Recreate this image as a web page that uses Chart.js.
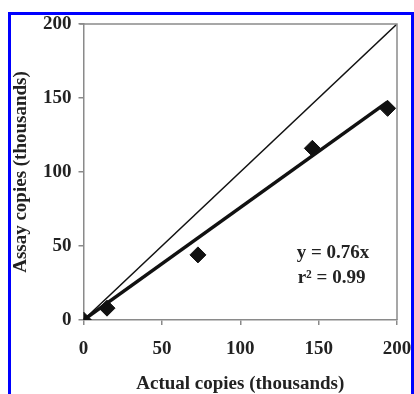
<!DOCTYPE html>
<html>
<head>
<meta charset="utf-8">
<script src="https://cdn.jsdelivr.net/npm/chart.js@4.4.0/dist/chart.umd.min.js"></script>
<style>
  html, body { margin: 0; padding: 0; background: #fff; }
  #wrap { position: relative; width: 414px; height: 394px; overflow: hidden; }
  #chart { position: absolute; left: 0; top: 0; }
  #frame {
    position: absolute; left: 8px; top: 12px; width: 400px; height: 420px;
    border: 3px solid #0000ff; pointer-events: none;
  }
</style>
</head>
<body>
<div id="wrap">
  <canvas id="chart" width="414" height="394"></canvas>
  <div id="frame"></div>
</div>
<script>
// measured points (thousands of copies)
const actualCopies = [0, 15, 73, 146, 194];
const assayCopies = [0, 8, 44, 116, 143];

// regression line y = 0.76x and the 1:1 line
const fitX = [0, 194];
const fitY = [0, 147.4];
const identityX = [0, 200];
const identityY = [0, 200];

const tickValues = [0, 50, 100, 150, 200];
const equationText = ["y = 0.76x", "r\u00B2 = 0.99"];

const serif = "'Liberation Serif', 'Times New Roman', serif";
const axisGray = "#8a8a8a";

function toPoints(xs, ys) {
  return xs.map((x, i) => ({ x: x, y: ys[i] }));
}

// top and right frame of the plot plus the equation text
const framePlugin = {
  id: "framePlugin",
  afterDraw(chart) {
    const ctx = chart.ctx;
    const a = chart.chartArea;
    ctx.save();
    ctx.strokeStyle = axisGray;
    ctx.lineWidth = 1.5;
    ctx.beginPath();
    ctx.moveTo(a.left - 4, a.top);
    ctx.lineTo(a.right, a.top);
    ctx.lineTo(a.right, a.bottom);
    ctx.stroke();

    const xs = chart.scales.x;
    const ys = chart.scales.y;
    ctx.fillStyle = "#222";
    ctx.font = "bold 19px " + serif;
    ctx.textBaseline = "middle";
    ctx.textAlign = "left";
    const tx = xs.getPixelForValue(136);
    ctx.fillText(equationText[0], tx, ys.getPixelForValue(45));
    ctx.fillText(equationText[1], tx + 1, ys.getPixelForValue(28));
    ctx.restore();
  },
};

const ctx = document.getElementById("chart").getContext("2d");

new Chart(ctx, {
  type: "scatter",
  data: {
    datasets: [
      {
        data: toPoints(identityX, identityY),
        showLine: true,
        borderColor: "#111",
        borderWidth: 1.5,
        pointRadius: 0,
      },
      {
        data: toPoints(fitX, fitY),
        showLine: true,
        borderColor: "#111",
        borderWidth: 3.5,
        pointRadius: 0,
      },
      {
        data: toPoints(actualCopies, assayCopies),
        pointStyle: "rectRot",
        pointRadius: 8,
        backgroundColor: "#111",
        borderColor: "#111",
        borderWidth: 1,
      },
    ],
  },
  options: {
    responsive: false,
    animation: false,
    devicePixelRatio: 1,
    layout: { padding: { top: 24, right: 17, left: 0, bottom: 0 } },
    plugins: {
      legend: { display: false },
      tooltip: { enabled: false },
    },
    scales: {
      x: {
        type: "linear",
        min: 0,
        max: 200,
        afterBuildTicks: (scale) => {
          scale.ticks = tickValues.map((v) => ({ value: v }));
        },
        afterFit: (scale) => {
          scale.height = 74;
          scale.paddingLeft = 0;
          scale.paddingRight = 0;
        },
        grid: {
          drawOnChartArea: false,
          drawTicks: true,
          tickLength: 5,
          color: axisGray,
          lineWidth: 1.5,
        },
        border: { display: true, color: axisGray, width: 1.5 },
        ticks: {
          color: "#222",
          padding: 13,
          maxRotation: 0,
          font: { family: serif, size: 19, weight: "bold" },
        },
        title: {
          display: true,
          text: "Actual copies (thousands)",
          color: "#222",
          padding: { top: 6, bottom: 0 },
          font: { family: serif, size: 19, weight: "bold", lineHeight: 1 },
        },
      },
      y: {
        type: "linear",
        min: 0,
        max: 200,
        afterBuildTicks: (scale) => {
          scale.ticks = tickValues.map((v) => ({ value: v }));
        },
        afterFit: (scale) => {
          scale.width = 83.5;
          scale.paddingTop = 0;
          scale.paddingBottom = 0;
        },
        grid: {
          drawOnChartArea: false,
          drawTicks: true,
          tickLength: 5,
          color: axisGray,
          lineWidth: 1.5,
        },
        border: { display: true, color: axisGray, width: 1.5 },
        ticks: {
          color: "#222",
          padding: 7,
          font: { family: serif, size: 19, weight: "bold" },
        },
        title: {
          display: true,
          text: "Assay copies (thousands)",
          color: "#222",
          padding: { top: 12, bottom: 4 },
          font: { family: serif, size: 19, weight: "bold", lineHeight: 1 },
        },
      },
    },
  },
  plugins: [framePlugin],
});
</script>
</body>
</html>
